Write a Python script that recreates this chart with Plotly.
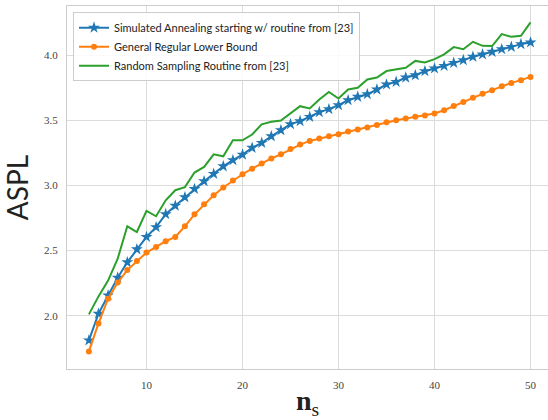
import plotly.graph_objects as go

n_s = list(range(4, 51))

sa_values = [1.81, 2.015, 2.156, 2.292, 2.41, 2.51, 2.605, 2.68, 2.78, 2.845, 2.91,
             2.974, 3.033, 3.09, 3.148, 3.195, 3.238, 3.29, 3.328, 3.379, 3.425,
             3.472, 3.495, 3.528, 3.564, 3.587, 3.618, 3.656, 3.682, 3.702, 3.738,
             3.777, 3.797, 3.83, 3.848, 3.879, 3.9, 3.92, 3.943, 3.964, 3.99,
             4.008, 4.028, 4.048, 4.066, 4.087, 4.1]

lower_bound = [1.725, 1.94, 2.13, 2.254, 2.35, 2.42, 2.485, 2.528, 2.572, 2.605, 2.687,
               2.779, 2.856, 2.925, 2.985, 3.038, 3.087, 3.13, 3.17, 3.208, 3.24,
               3.28, 3.315, 3.343, 3.361, 3.379, 3.395, 3.415, 3.43, 3.446, 3.466,
               3.486, 3.502, 3.515, 3.528, 3.538, 3.554, 3.579, 3.612, 3.643, 3.674,
               3.705, 3.733, 3.764, 3.789, 3.81, 3.835]

random_sampling = [2.01, 2.148, 2.27, 2.438, 2.687, 2.643, 2.805, 2.764, 2.887, 2.964, 2.988,
                   3.1, 3.143, 3.24, 3.225, 3.348, 3.348, 3.392, 3.47, 3.49, 3.5,
                   3.554, 3.61, 3.592, 3.662, 3.72, 3.669, 3.738, 3.751, 3.815, 3.83,
                   3.88, 3.892, 3.905, 3.958, 3.946, 3.972, 4.008, 4.064, 4.048, 4.105,
                   4.074, 4.072, 4.164, 4.143, 4.151, 4.254]

names = ["Simulated Annealing starting w/ routine from [23]",
         "General Regular Lower Bound",
         "Random Sampling Routine from [23]"]

x_ticks = [10, 20, 30, 40, 50]
y_ticks = [2.0, 2.5, 3.0, 3.5, 4.0]

fig = go.Figure()
fig.add_trace(go.Scatter(x=n_s, y=sa_values, name=names[0], mode="lines+markers",
                         line=dict(color="#1f77b4", width=2),
                         marker=dict(symbol="star", size=9, color="#1f77b4")))
fig.add_trace(go.Scatter(x=n_s, y=lower_bound, name=names[1], mode="lines+markers",
                         line=dict(color="#ff7f0e", width=2),
                         marker=dict(symbol="circle", size=6, color="#ff7f0e")))
fig.add_trace(go.Scatter(x=n_s, y=random_sampling, name=names[2], mode="lines",
                         line=dict(color="#2ca02c", width=2)))

tickfont = dict(family="Liberation Serif", size=11, color="#444")

fig.update_layout(
    width=548, height=420,
    margin=dict(l=67, r=0, t=6, b=51),
    plot_bgcolor="white", paper_bgcolor="white",
    showlegend=True,
    legend=dict(x=0.0125, y=0.983, xanchor="left", yanchor="top",
                bgcolor="rgba(255,255,255,0.85)", bordercolor="#cccccc", borderwidth=1,
                font=dict(family="Lato", size=11, color="#222"),
                tracegroupgap=0, itemwidth=30),
    xaxis=dict(range=[1.72, 51.82], tickvals=x_ticks, showgrid=True, gridcolor="#dcdcdc",
               gridwidth=1.2, showline=True, linecolor="#cccccc", linewidth=1.2, mirror=True,
               ticks="outside", ticklen=6, tickcolor="rgba(0,0,0,0)", tickfont=tickfont,
               zeroline=False,
               title=dict(text="<b>n</b><sub>s</sub>", font=dict(family="Liberation Serif", size=28, color="#222"),
                          standoff=6)),
    yaxis=dict(range=[1.59, 4.38], tickvals=y_ticks, tickformat=".1f", showgrid=True,
               gridcolor="#dcdcdc", gridwidth=1.2, showline=True, linecolor="#cccccc",
               linewidth=1.2, ticks="outside", ticklen=6, tickcolor="rgba(0,0,0,0)",
               tickfont=tickfont, zeroline=False,
               title=dict(text="ASPL", font=dict(family="Lato", size=28, color="#222"),
                          standoff=8)),
)

fig.write_html("out.html")
